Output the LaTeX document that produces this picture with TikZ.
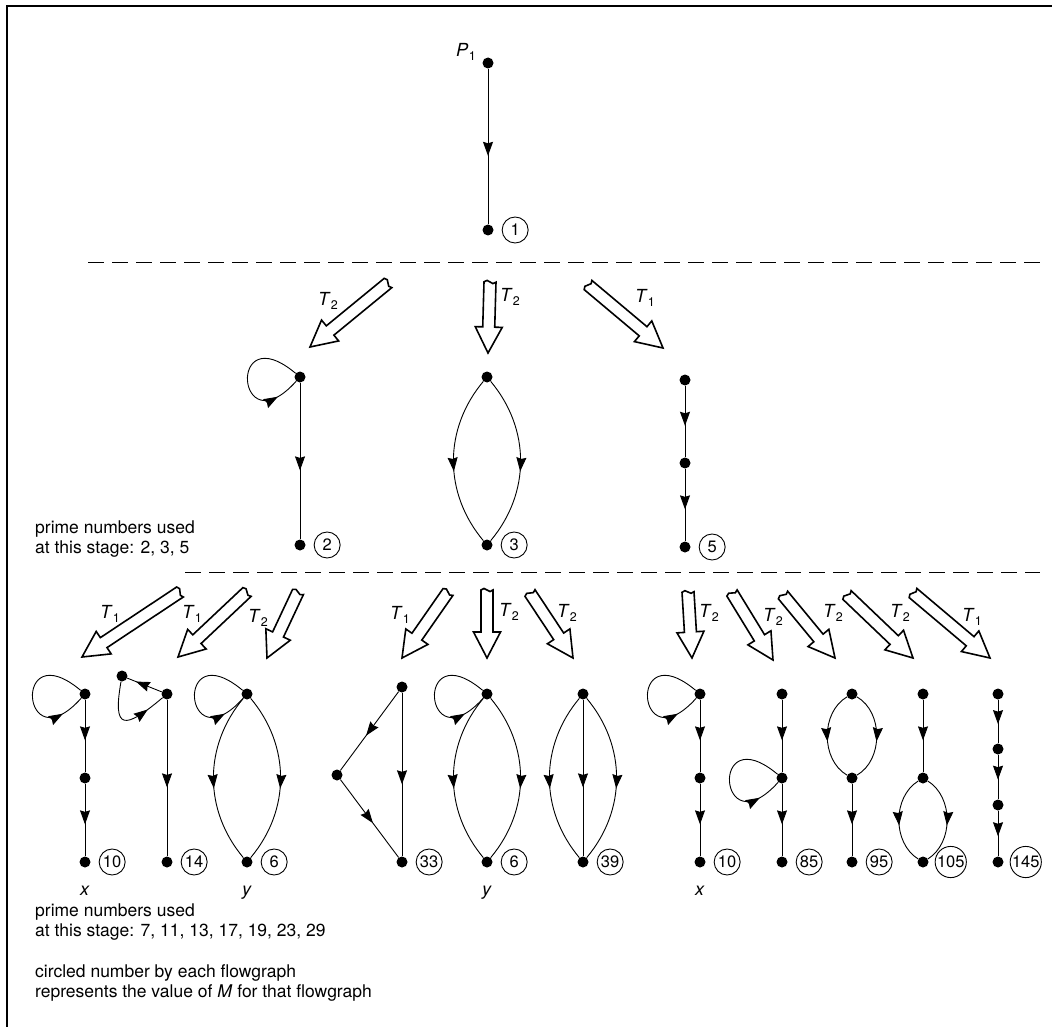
\documentclass[tikz,border=0pt]{standalone}
\usepackage{fontspec}
\setmainfont{TeX Gyre Heros}
\usetikzlibrary{arrows.meta, positioning, calc, decorations.markings}

\tikzset{
  dot/.style={circle, fill, inner sep=0pt, minimum size=11pt},
  mval/.style={circle, draw, line width=0.9pt, inner sep=0.5pt, minimum size=26pt, font=\fontsize{16.5}{16.5}\selectfont},
  note/.style={align=left, anchor=north west, inner sep=0pt, font=\fontsize{17.5}{20}\selectfont},
  tlab/.style={inner sep=0pt, font=\fontsize{18}{18}\selectfont},
  edge/.style={line width=0.9pt},
  mid/.style={edge, postaction={decorate}, decoration={markings, mark=at position #1 with {\arrow{Stealth[length=14pt,width=10pt,inset=1.5pt]}}}},
  mid/.default=0.56,
  blockline/.style={line width=1.6pt, line join=miter, fill=white},
  sep/.style={line width=1pt, dash pattern=on 16pt off 8pt},
  frame/.style={line width=1.6pt}
}
\newcommand{\tsub}[2]{\textit{#1}\kern0.3pt\raisebox{-0.5ex}{\fontsize{12.5}{12.5}\selectfont #2}}
% hollow block arrow from tail #1 to tip #2
\newcommand{\blockarrow}[2]{%
  \coordinate (ba-h) at ($(#2)!26pt!(#1)$);
  \draw[blockline] ($(#1)!6pt!90:(#2)$) -- ($(ba-h)!6pt!90:(#2)$) -- ($(ba-h)!13.5pt!90:(#2)$)
    -- (#2) -- ($(ba-h)!13.5pt!-90:(#2)$) -- ($(ba-h)!6pt!-90:(#2)$) -- ($(#1)!6pt!-90:(#2)$)
    to[bend left=60] (#1) to[bend right=60] ($(#1)!6pt!90:(#2)$) -- cycle;
}

\begin{document}
\begin{tikzpicture}[x=1pt, y=1pt]
  \useasboundingbox (0,0) rectangle (1052,-1027);
  \draw[frame] (1052,-6) -- (7,-6) -- (7,-1027);

  % stage 1
  \node[dot] (p1a) at (488,-63) {};
  \node[dot] (p1b) at (488,-230) {};
  \node[mval, right=8pt of p1b] (m1) {1};
  \node[tlab] (pl) at (466,-52) {\tsub{P}{1}};
  \draw[mid] (p1a) -- (p1b);

  \draw[sep] (88,-262) -- (1040,-262);

  % stage 2 arrows
  \coordinate (a1t) at (388,-283); \coordinate (a1h) at (310,-347);
  \coordinate (a2t) at (490,-282); \coordinate (a2h) at (488,-353);
  \coordinate (a3t) at (588,-285); \coordinate (a3h) at (663,-348);
  \blockarrow{a1t}{a1h}
  \blockarrow{a2t}{a2h}
  \blockarrow{a3t}{a3h}
  \node[tlab] (t1) at (328,-301) {\tsub{T}{2}};
  \node[tlab] (t2) at (510,-297) {\tsub{T}{2}};
  \node[tlab] (t3) at (645,-298) {\tsub{T}{1}};

  % stage 2 graphs
  \node[dot] (g2a) at (300,-377) {};
  \node[dot] (g2b) at (300,-545) {};
  \node[mval, right=8pt of g2b] (m2) {2};
  \draw[mid=0.82] (g2a) to[out=140, in=228, distance=90pt] (g2a);
  \draw[mid] (g2a) -- (g2b);

  \node[dot] (g3a) at (487,-377) {};
  \node[dot] (g3b) at (487,-545) {};
  \node[mval, right=8pt of g3b] (m3) {3};
  \draw[mid] (g3a) to[bend left=40] (g3b);
  \draw[mid] (g3a) to[bend right=40] (g3b);

  \node[dot] (g5a) at (685,-380) {};
  \node[dot] (g5b) at (685,-463) {};
  \node[dot] (g5c) at (685,-547) {};
  \node[mval, right=8pt of g5c] (m5) {5};
  \draw[mid] (g5a) -- (g5b);
  \draw[mid] (g5b) -- (g5c);

  \node[note] (n1) at (35,-521) {prime numbers used\\at this stage: 2, 3, 5};

  \draw[sep] (185,-572) -- (1040,-572);

  % stage 3 arrows
  \coordinate (b1t) at (180,-592); \coordinate (b1h) at (82,-657);
  \coordinate (b2t) at (247,-592); \coordinate (b2h) at (178,-657);
  \coordinate (b3t) at (298,-592); \coordinate (b3h) at (267,-658);
  \coordinate (b4t) at (448,-592); \coordinate (b4h) at (402,-658);
  \coordinate (b5t) at (487,-590); \coordinate (b5h) at (487,-658);
  \coordinate (b6t) at (530,-593); \coordinate (b6h) at (573,-658);
  \coordinate (b7t) at (688,-592); \coordinate (b7h) at (692,-658);
  \coordinate (b8t) at (732,-593); \coordinate (b8h) at (773,-660);
  \coordinate (b9t) at (783,-595); \coordinate (b9h) at (835,-658);
  \coordinate (b10t) at (847,-595); \coordinate (b10h) at (913,-658);
  \coordinate (b11t) at (913,-593); \coordinate (b11h) at (990,-658);
  \blockarrow{b1t}{b1h}
  \blockarrow{b2t}{b2h}
  \blockarrow{b3t}{b3h}
  \blockarrow{b4t}{b4h}
  \blockarrow{b5t}{b5h}
  \blockarrow{b6t}{b6h}
  \blockarrow{b7t}{b7h}
  \blockarrow{b8t}{b8h}
  \blockarrow{b9t}{b9h}
  \blockarrow{b10t}{b10h}
  \blockarrow{b11t}{b11h}
  \node[tlab] (u1) at (110,-614) {\tsub{T}{1}};
  \node[tlab] (u2) at (192,-614) {\tsub{T}{1}};
  \node[tlab] (u3) at (258,-618) {\tsub{T}{2}};
  \node[tlab] (u4) at (400,-615) {\tsub{T}{1}};
  \node[tlab] (u5) at (509,-612) {\tsub{T}{2}};
  \node[tlab] (u6) at (567,-613) {\tsub{T}{2}};
  \node[tlab] (u7) at (709,-613) {\tsub{T}{2}};
  \node[tlab] (u8) at (773,-617) {\tsub{T}{2}};
  \node[tlab] (u9) at (833,-613) {\tsub{T}{2}};
  \node[tlab] (u10) at (900,-613) {\tsub{T}{2}};
  \node[tlab] (u11) at (972,-617) {\tsub{T}{1}};

  % stage 3 graphs
  \node[dot] (h10a) at (85,-694) {};
  \node[dot] (h10b) at (85,-778) {};
  \node[dot] (h10c) at (85,-862) {};
  \node[mval, right=8pt of h10c] (m10) {10};
  \node[tlab, anchor=base] (lx1) at (85,-895) {\textit{x}};
  \draw[mid=0.82] (h10a) to[out=140, in=228, distance=90pt] (h10a);
  \draw[mid] (h10a) -- (h10b);
  \draw[mid] (h10b) -- (h10c);

  \node[dot] (h14a) at (167,-694) {};
  \node[dot] (h14s) at (122,-676) {};
  \node[dot] (h14b) at (167,-862) {};
  \node[mval, right=8pt of h14b] (m14) {14};
  \draw[mid=0.75] (h14a) -- (h14s);
  \draw[mid=0.78] (h14s) to[out=-100, in=-140, distance=50pt] (h14a);
  \draw[mid] (h14a) -- (h14b);

  \node[dot] (h6a) at (247,-694) {};
  \node[dot] (h6b) at (247,-862) {};
  \node[mval, right=8pt of h6b] (m6) {6};
  \node[tlab, anchor=base] (ly1) at (247,-895) {\textit{y}};
  \draw[mid=0.82] (h6a) to[out=140, in=228, distance=90pt] (h6a);
  \draw[mid] (h6a) to[bend left=40] (h6b);
  \draw[mid] (h6a) to[bend right=40] (h6b);

  \node[dot] (h33a) at (402,-687) {};
  \node[dot] (h33l) at (337,-775) {};
  \node[dot] (h33b) at (402,-862) {};
  \node[mval, right=8pt of h33b] (m33) {33};
  \draw[mid] (h33a) -- (h33l);
  \draw[mid] (h33l) -- (h33b);
  \draw[mid] (h33a) -- (h33b);

  \node[dot] (k6a) at (487,-694) {};
  \node[dot] (k6b) at (487,-862) {};
  \node[mval, right=8pt of k6b] (m6b) {6};
  \node[tlab, anchor=base] (ly2) at (487,-895) {\textit{y}};
  \draw[mid=0.82] (k6a) to[out=140, in=228, distance=90pt] (k6a);
  \draw[mid] (k6a) to[bend left=40] (k6b);
  \draw[mid] (k6a) to[bend right=40] (k6b);

  \node[dot] (h39a) at (583,-694) {};
  \node[dot] (h39b) at (583,-862) {};
  \node[mval, right=8pt of h39b] (m39) {39};
  \draw[mid] (h39a) to[bend left=40] (h39b);
  \draw[mid] (h39a) -- (h39b);
  \draw[mid] (h39a) to[bend right=40] (h39b);

  \node[dot] (k10a) at (700,-694) {};
  \node[dot] (k10b) at (700,-778) {};
  \node[dot] (k10c) at (700,-862) {};
  \node[mval, right=8pt of k10c] (m10b) {10};
  \node[tlab, anchor=base] (lx2) at (700,-895) {\textit{x}};
  \draw[mid=0.82] (k10a) to[out=140, in=228, distance=90pt] (k10a);
  \draw[mid] (k10a) -- (k10b);
  \draw[mid] (k10b) -- (k10c);

  \node[dot] (h85a) at (782,-694) {};
  \node[dot] (h85b) at (782,-778) {};
  \node[dot] (h85c) at (782,-862) {};
  \node[mval, right=8pt of h85c] (m85) {85};
  \draw[mid] (h85a) -- (h85b);
  \draw[mid=0.82] (h85b) to[out=140, in=228, distance=90pt] (h85b);
  \draw[mid] (h85b) -- (h85c);

  \node[dot] (h95a) at (852,-694) {};
  \node[dot] (h95b) at (852,-778) {};
  \node[dot] (h95c) at (852,-862) {};
  \node[mval, right=8pt of h95c] (m95) {95};
  \draw[mid] (h95a) to[bend left=60] (h95b);
  \draw[mid] (h95a) to[bend right=60] (h95b);
  \draw[mid] (h95b) -- (h95c);

  \node[dot] (h105a) at (923,-694) {};
  \node[dot] (h105b) at (923,-778) {};
  \node[dot] (h105c) at (923,-862) {};
  \node[mval, right=6pt of h105c] (m105) {105};
  \draw[mid] (h105a) -- (h105b);
  \draw[mid] (h105b) to[bend left=58] (h105c);
  \draw[mid] (h105b) to[bend right=58] (h105c);

  \node[dot] (h145a) at (998,-694) {};
  \node[dot] (h145b) at (998,-749) {};
  \node[dot] (h145c) at (998,-805) {};
  \node[dot] (h145d) at (998,-862) {};
  \node[mval, right=6pt of h145d] (m145) {145};
  \draw[mid] (h145a) -- (h145b);
  \draw[mid] (h145b) -- (h145c);
  \draw[mid] (h145c) -- (h145d);

  \node[note] (n2) at (35,-904) {prime numbers used\\at this stage: 7, 11, 13, 17, 19, 23, 29};
  \node[note] (n3) at (35,-964) {circled number by each flowgraph\\represents the value of \textit{M} for that flowgraph};
\end{tikzpicture}
\end{document}
